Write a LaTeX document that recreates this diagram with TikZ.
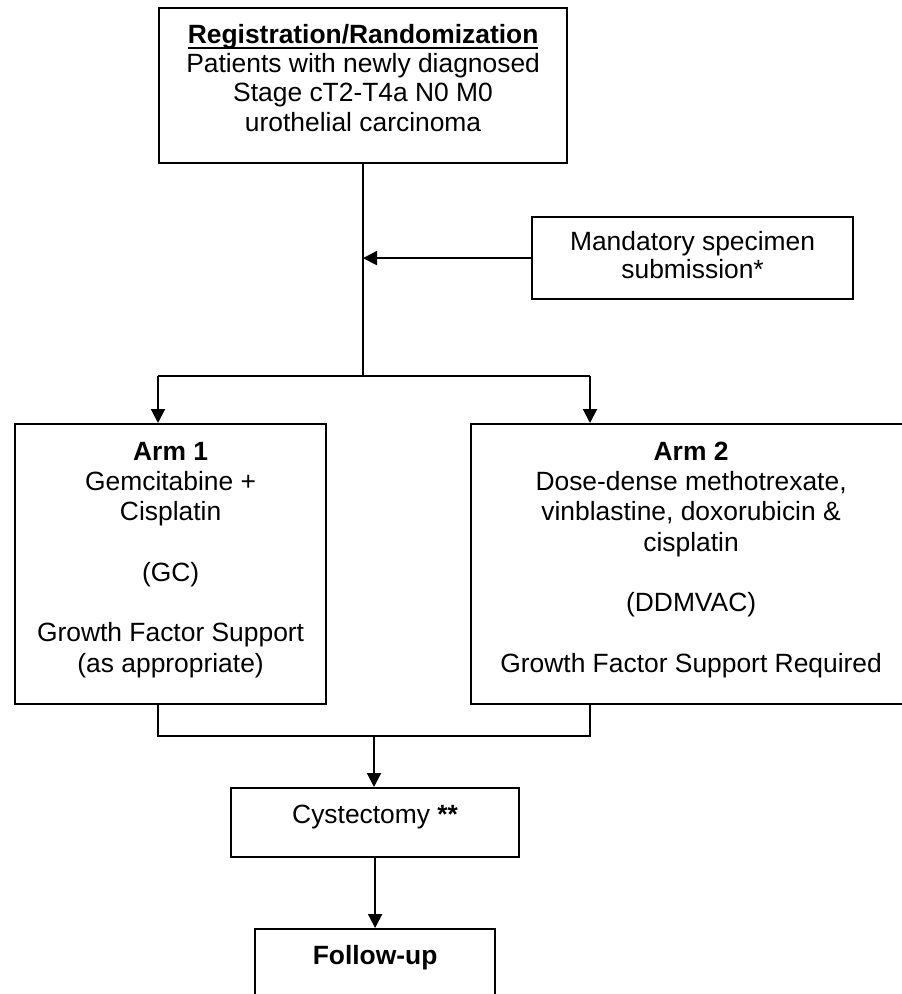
\documentclass[tikz,border=0pt]{standalone}
\usepackage{fontspec}
\setmainfont{Liberation Sans}
\usetikzlibrary{arrows.meta}
\newcommand\ulreg[1]{\setbox0\hbox{#1}\rlap{\rule[-6pt]{\wd0}{2.5pt}}\box0}
\newcommand\boxtext[4]{\parbox[t][#1pt][t]{#2pt}{\centering\fontsize{26.4}{#3pt}\selectfont #4}}
\tikzset{
  box/.style={draw, line width=2.2pt, inner sep=0pt, anchor=north west},
  conn/.style={line width=2pt},
  arr/.style={conn, -{Triangle[length=14pt,width=14pt]}},
}
\begin{document}
\begin{tikzpicture}[x=1pt,y=-1pt]
\useasboundingbox (0,0) rectangle (902,994);
\clip (0,0) rectangle (902,994);
\fill[white] (0,0) rectangle (902,994);

\node[box] (top) at (158,7) {\boxtext{155}{408}{29.3}{\rule{0pt}{35pt}\textbf{\ulreg{Registration/Randomization}}\\ Patients with newly diagnosed\\ Stage cT2-T4a N0 M0\\ urothelial carcinoma}};

\node[box] (mand) at (531,216) {\boxtext{82}{321}{28}{\rule{0pt}{33pt}Mandatory specimen\\ submission*}};

\node[box] (arm1) at (14,423) {\boxtext{280}{311}{30.3}{\rule{0pt}{36pt}\textbf{Arm 1}\\ Gemcitabine +\\ Cisplatin\\ \mbox{}\\ (GC)\\ \mbox{}\\ Growth Factor Support\\ (as appropriate)}};

\node[box] (arm2) at (470,423) {\boxtext{280}{440}{30.3}{\rule{0pt}{36pt}\textbf{Arm 2}\\ Dose-dense methotrexate,\\ vinblastine, doxorubicin \&\\ cisplatin\\ \mbox{}\\ (DDMVAC)\\ \mbox{}\\ Growth Factor Support Required}};

\node[box] (cyst) at (230,787) {\boxtext{69}{288}{30.3}{\rule{0pt}{35pt}Cystectomy \textbf{**}}};

\node[box] (follow) at (254,928) {\boxtext{100}{240}{30.3}{\rule{0pt}{35pt}\textbf{Follow-up}}};

\coordinate (split) at (363,376);
\coordinate (bl) at (158,376);
\coordinate (br) at (590,376);
\coordinate (ml) at (158,736);
\coordinate (mr) at (590,736);
\coordinate (mc) at (374,736);

\draw[conn] (split |- top.south) -- (split);
\draw[arr] (mand.west) -- (mand.west -| split);
\draw[conn] (bl) -- (br);
\draw[arr] (bl) -- (bl |- arm1.north);
\draw[arr] (br) -- (br |- arm2.north);
\draw[conn] (ml |- arm1.south) -- (ml) -- (mr) -- (mr |- arm2.south);
\draw[arr] (mc) -- (mc |- cyst.north);
\draw[arr] (cyst.south) -- (follow.north);
\end{tikzpicture}
\end{document}
